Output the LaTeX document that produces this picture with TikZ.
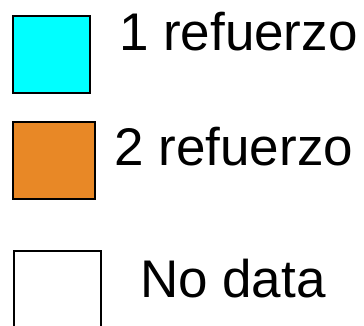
\documentclass[tikz,border=0pt]{standalone}
\usepackage{fontspec}
\setmainfont{Liberation Sans}
\begin{document}
\begin{tikzpicture}[x=1pt,y=-1pt,
  swatch/.style={draw=black,line width=2pt,inner sep=0pt,outer sep=0pt},
  label/.style={anchor=base west,inner sep=0pt,outer sep=0pt,
    font=\fontsize{53}{60}\selectfont}]
  \useasboundingbox (0,0) rectangle (364,325);
  \clip (0,0) rectangle (364,325);
  \definecolor{refA}{RGB}{0,255,255}
  \definecolor{refB}{RGB}{232,136,38}
  % colour swatches
  \node[swatch,fill=refA,minimum width=77pt,minimum height=77pt] (s1) at (51.5,54.5) {};
  \node[swatch,fill=refB,minimum width=82pt,minimum height=77pt] (s2) at (54,160.5) {};
  \node[swatch,line width=2.5pt,fill=white,minimum width=87pt,minimum height=90pt] (s3) at (57.5,296) {};
  % legend entries
  \node[label] (t1) at (119,50) {1 refuerzo};
  \node[label] (t2) at (114.5,165) {2 refuerzo};
  \node[label] (t3) at (140,297) {No data};
\end{tikzpicture}
\end{document}
